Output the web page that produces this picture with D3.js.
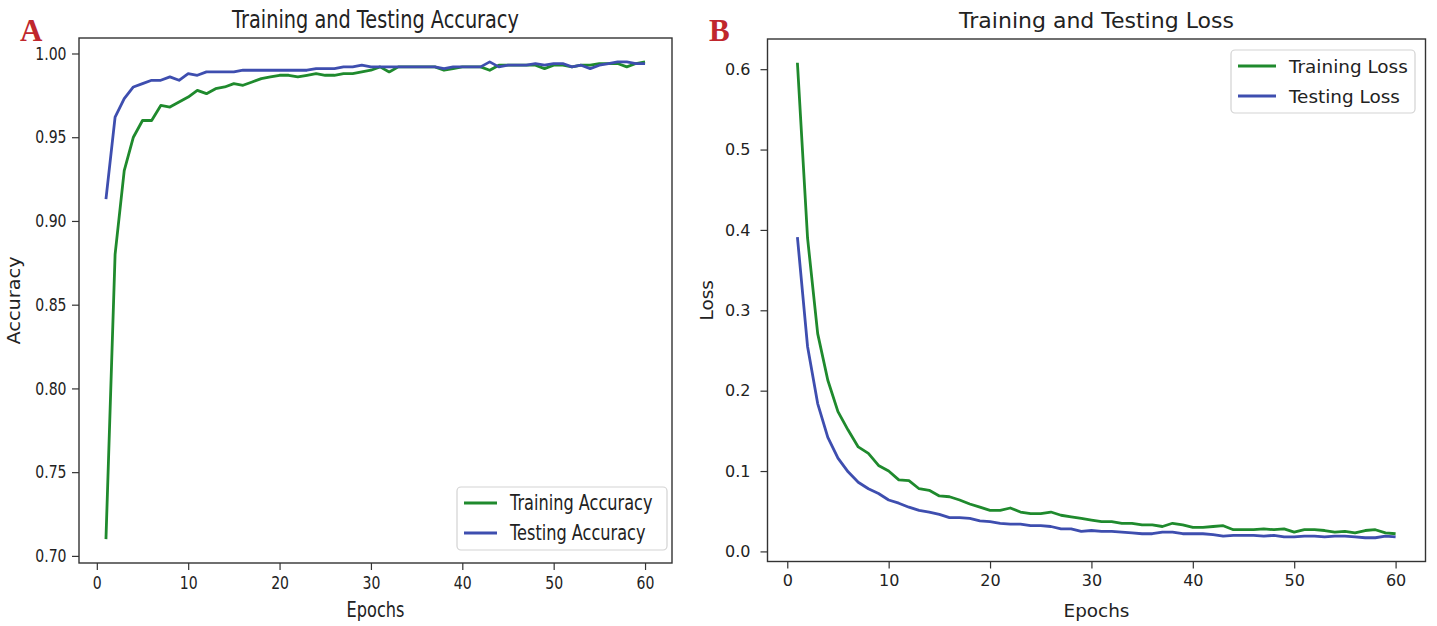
<!DOCTYPE html>
<html><head><meta charset="utf-8">
<script src="https://cdn.jsdelivr.net/npm/d3@7"></script>
<style>body{margin:0;background:#fff}</style></head><body>
<svg id="c" width="1437" height="626"></svg>
<script>
const epochs = d3.range(1, 61);
const trainAcc = [0.710,0.880,0.930,0.950,0.960,0.960,0.969,0.968,0.971,0.974,
  0.978,0.976,0.979,0.980,0.982,0.981,0.983,0.985,0.986,0.987,
  0.987,0.986,0.987,0.988,0.987,0.987,0.988,0.988,0.989,0.990,
  0.992,0.989,0.992,0.992,0.992,0.992,0.992,0.990,0.991,0.992,
  0.992,0.992,0.990,0.993,0.993,0.993,0.993,0.993,0.991,0.993,
  0.993,0.992,0.993,0.993,0.994,0.994,0.994,0.992,0.994,0.995];
const testAcc = [0.913,0.962,0.973,0.980,0.982,0.984,0.984,0.986,0.984,0.988,
  0.987,0.989,0.989,0.989,0.989,0.990,0.990,0.990,0.990,0.990,
  0.990,0.990,0.990,0.991,0.991,0.991,0.992,0.992,0.993,0.992,
  0.992,0.992,0.992,0.992,0.992,0.992,0.992,0.991,0.992,0.992,
  0.992,0.992,0.995,0.992,0.993,0.993,0.993,0.994,0.993,0.994,
  0.994,0.992,0.993,0.991,0.993,0.994,0.995,0.995,0.994,0.994];
const trainLoss = [0.608,0.390,0.271,0.213,0.174,0.151,0.130,0.122,0.107,0.100,
  0.089,0.088,0.078,0.076,0.069,0.068,0.064,0.059,0.055,0.051,
  0.051,0.054,0.049,0.047,0.047,0.049,0.045,0.043,0.041,0.039,
  0.037,0.037,0.035,0.035,0.033,0.033,0.031,0.035,0.033,0.030,
  0.030,0.031,0.032,0.027,0.027,0.027,0.028,0.027,0.028,0.024,
  0.027,0.027,0.026,0.024,0.025,0.023,0.026,0.027,0.023,0.022];
const testLoss = [0.391,0.255,0.184,0.142,0.116,0.099,0.086,0.078,0.072,0.064,
  0.060,0.055,0.051,0.049,0.046,0.042,0.042,0.041,0.038,0.037,
  0.035,0.034,0.034,0.032,0.032,0.031,0.028,0.028,0.025,0.026,
  0.025,0.025,0.024,0.023,0.022,0.022,0.024,0.024,0.022,0.022,
  0.022,0.021,0.019,0.020,0.020,0.020,0.019,0.020,0.018,0.018,
  0.019,0.019,0.018,0.019,0.019,0.018,0.017,0.017,0.019,0.018];
const xTicks = [0,10,20,30,40,50,60];
const accTicks = [0.70,0.75,0.80,0.85,0.90,0.95,1.00];
const lossTicks = [0.0,0.1,0.2,0.3,0.4,0.5,0.6];

const svg = d3.select('#c');
const FONT = "'DejaVu Sans', sans-serif";
const GREEN = "#1f8a2d", BLUE = "#3e4eaf", INK = "#222";

function panel(o) {
  const g = svg.append('g');
  const sx = o.sx, fs = o.fs;
  const xr = d3.extent(epochs), xm = (xr[1]-xr[0])*0.05;
  const all = o.series.flatMap(s => s.values);
  const yr = d3.extent(all), ym = (yr[1]-yr[0])*0.05;
  const x = d3.scaleLinear().domain([xr[0]-xm, xr[1]+xm]).range([o.left, o.right]);
  const y = d3.scaleLinear().domain([yr[0]-ym, yr[1]+ym]).range([o.bottom, o.top]);

  const xa = g.append('g').attr('transform', `translate(0,${o.bottom})`)
    .call(d3.axisBottom(x).tickValues(xTicks).tickFormat(d3.format('d')).tickSize(7).tickPadding(5));
  const ya = g.append('g').attr('transform', `translate(${o.left},0)`)
    .call(d3.axisLeft(y).tickValues(o.yTicks).tickFormat(d3.format(o.yFmt)).tickSize(7).tickPadding(o.ypad));
  [xa, ya].forEach(a => {
    a.select('.domain').remove();
    a.selectAll('line').attr('stroke', '#333').attr('stroke-width', 1.2);
    a.selectAll('text').attr('font-family', FONT).attr('font-size', 16 * fs).attr('fill', INK)
      .attr('transform', `scale(${sx},1)`);
  });
  xa.selectAll('text').attr('dy', '0.8em');

  const line = vals => d3.line().x((d, i) => x(epochs[i])).y(d => y(d))(vals);
  o.series.forEach(s => {
    g.append('path').attr('d', line(s.values)).attr('fill', 'none')
      .attr('stroke', s.color).attr('stroke-width', 2.8)
      .attr('stroke-linejoin', 'round').attr('stroke-linecap', 'butt');
  });

  g.append('rect').attr('x', o.left).attr('y', o.top)
    .attr('width', o.right - o.left).attr('height', o.bottom - o.top)
    .attr('fill', 'none').attr('stroke', '#333').attr('stroke-width', 1.4);

  const txt = (tx, ty, s, size, anchor, tf) => g.append('text')
    .attr('transform', `translate(${tx},${ty}) ${tf || `scale(${sx},1)`}`)
    .attr('text-anchor', anchor).attr('font-family', FONT).attr('font-size', size)
    .attr('fill', INK).text(s);

  const cx = (o.left + o.right) / 2;
  txt(cx, 28, o.title, 22 * fs, 'middle');
  txt(cx, 617, 'Epochs', 18.4 * fs, 'middle');
  txt(o.ylabX, (o.top + o.bottom) / 2, o.ylabel, 18.4, 'middle', `rotate(-90) scale(${o.ylabScale},1)`);

  // panel letter
  g.append('text').attr('x', o.letterX).attr('y', 41).text(o.letter)
    .attr('font-family', "'Liberation Serif', 'Times New Roman', serif")
    .attr('font-weight', 'bold').attr('font-size', 31).attr('fill', '#c0272d');

  // legend
  const L = o.legend;
  g.append('rect').attr('x', L.x).attr('y', L.y).attr('width', L.w).attr('height', L.h)
    .attr('rx', 4).attr('fill', 'white').attr('fill-opacity', 0.85)
    .attr('stroke', '#d3d3d3').attr('stroke-width', 1.2);
  o.series.forEach((s, i) => {
    const ly = L.y + 16 + i * 30;
    g.append('line').attr('x1', L.x + 7).attr('x2', L.x + 7 + L.sw)
      .attr('y1', ly).attr('y2', ly).attr('stroke', s.color).attr('stroke-width', 2.8);
    txt(L.x + L.tx, ly + 6.5, s.name, 18.4 * fs, 'start');
  });
}

panel({
  left: 79, right: 672, top: 38, bottom: 563, sx: 0.78, fs: 1.125, ypad: 9,
  title: 'Training and Testing Accuracy', ylabel: 'Accuracy', ylabX: 20, ylabScale: 1.05,
  yTicks: accTicks, yFmt: '.2f', letter: 'A', letterX: 20,
  series: [
    {name: 'Training Accuracy', values: trainAcc, color: GREEN},
    {name: 'Testing Accuracy', values: testAcc, color: BLUE}
  ],
  legend: {x: 457, y: 487, w: 210, h: 63, sw: 33, tx: 53}
});

panel({
  left: 767.5, right: 1425.5, top: 39, bottom: 561.5, sx: 1, fs: 1, ypad: 10,
  title: 'Training and Testing Loss', ylabel: 'Loss', ylabX: 713, ylabScale: 1,
  yTicks: lossTicks, yFmt: '.1f', letter: 'B', letterX: 709,
  series: [
    {name: 'Training Loss', values: trainLoss, color: GREEN},
    {name: 'Testing Loss', values: testLoss, color: BLUE}
  ],
  legend: {x: 1231, y: 50, w: 184, h: 63, sw: 38, tx: 58}
});
</script>
</body></html>
